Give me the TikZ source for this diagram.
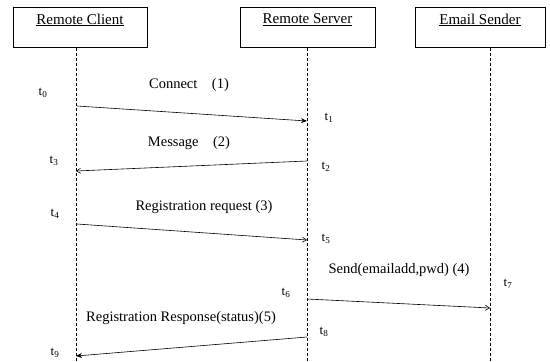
\documentclass[tikz,border=0pt]{standalone}
\usepackage{fontspec}
\setmainfont{Liberation Serif}
\usetikzlibrary{arrows.meta}

\begin{document}
\begin{tikzpicture}[x=1pt, y=-1pt,
  box/.style={draw, thin, minimum height=40pt},
  title/.style={font=\fontsize{15}{18}\selectfont},
  life/.style={thin, dash pattern=on 3pt off 2pt},
  msg/.style={-{Stealth[length=6pt, width=5pt]}, semithick},
  msgo/.style={-{Straight Barb[length=4pt, width=5pt]}, semithick},
  lbl/.style={font=\fontsize{14.5}{17}\selectfont},
  tm/.style={font=\fontsize{13}{15}\selectfont}
]
  \useasboundingbox (0,0) rectangle (550,362);

  % Objects
  \node[box, minimum width=134pt] (client) at (80,27) {};
  \node[box, minimum width=135pt] (server) at (307.5,27) {};
  \node[box, minimum width=130pt] (email) at (480,27) {};
  \node[title] (clienttitle) at (80,20) {\underline{Remote Client}};
  \node[title] (servertitle) at (307.5,20) {\underline{Remote Server}};
  \node[title] (emailtitle) at (480,20) {\underline{Email Sender}};

  % Lifelines
  \coordinate (clienttop) at (76,48);
  \coordinate (clientbot) at (76,362);
  \coordinate (servertop) at (307,48);
  \coordinate (serverbot) at (307,362);
  \coordinate (emailtop) at (490,48);
  \coordinate (emailbot) at (490,362);
  \draw[life] (clienttop) -- (clientbot);
  \draw[life] (servertop) -- (serverbot);
  \draw[life] (emailtop) -- (emailbot);

  % Message ends
  \coordinate (c0) at (77,106);
  \coordinate (s1) at (307,121);
  \coordinate (s2) at (307,161);
  \coordinate (c3) at (76,171);
  \coordinate (c4) at (77,224);
  \coordinate (s5) at (307,240);
  \coordinate (s6) at (307,299);
  \coordinate (e7) at (490,308);
  \coordinate (s8) at (307,337);
  \coordinate (c9) at (76,356);

  % Messages
  \draw[msg] (c0) -- (s1);
  \draw[msgo] (s2) -- (c3);
  \draw[msgo] (c4) -- (s5);
  \draw[msgo] (s6) -- (e7);
  \draw[msg] (s8) -- (c9);

  % Message labels
  \node[lbl] (connect) at (189,85) {Connect\quad(1)};
  \node[lbl] (message) at (189,143) {Message\quad(2)};
  \node[lbl] (regreq) at (204,207) {Registration request (3)};
  \node[lbl] (send) at (399,270) {Send(emailadd,pwd) (4)};
  \node[lbl] (regresp) at (181,318) {Registration Response(status)(5)};

  % Times
  \node[tm] (t0) at (43,93) {t\textsubscript{0}};
  \node[tm] (t1) at (329,118) {t\textsubscript{1}};
  \node[tm] (t2) at (326,167) {t\textsubscript{2}};
  \node[tm] (t3) at (54,161) {t\textsubscript{3}};
  \node[tm] (t4) at (55,214) {t\textsubscript{4}};
  \node[tm] (t5) at (326,239) {t\textsubscript{5}};
  \node[tm] (t6) at (286,293) {t\textsubscript{6}};
  \node[tm] (t7) at (508,284) {t\textsubscript{7}};
  \node[tm] (t8) at (324,332) {t\textsubscript{8}};
  \node[tm] (t9) at (55,353) {t\textsubscript{9}};
\end{tikzpicture}
\end{document}
